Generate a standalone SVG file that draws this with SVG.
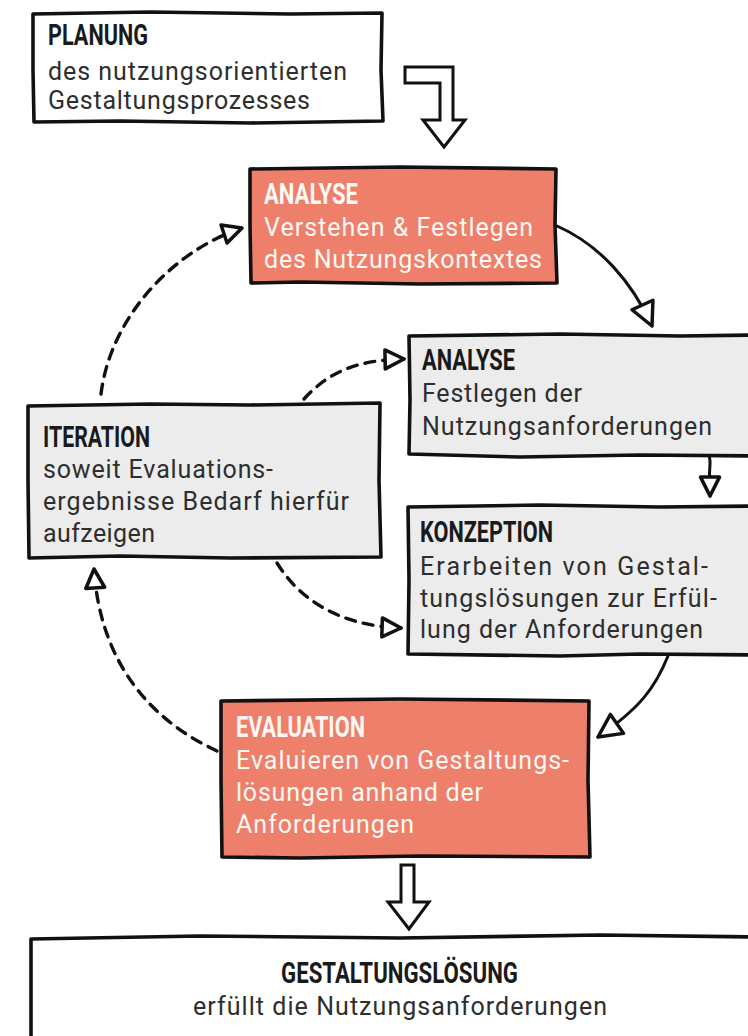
<svg xmlns="http://www.w3.org/2000/svg" width="748" height="1036" viewBox="0 0 748 1036">
<style>
.box{stroke:#111;stroke-width:3.6;stroke-linejoin:round;fill:#fff}
.red{fill:#ee7f6a}
.gray{fill:#ececec}
.t{font-family:Roboto,"Liberation Sans",sans-serif;font-weight:700;font-size:29px;fill:#1a1a1a}
.b{font-family:Roboto,"Liberation Sans",sans-serif;font-size:25px;fill:#2e2e2e}
.w{fill:#fff8f4}
.c{fill:none;stroke:#111;stroke-width:3;stroke-linecap:round}
.d{stroke-width:3.4;stroke-dasharray:10 8}
.fat{fill:#fff;stroke:#111;stroke-width:3;stroke-linejoin:miter}
</style>
<defs>
<marker id="tri" markerUnits="userSpaceOnUse" markerWidth="26" markerHeight="26" viewBox="-2 -2 22 22" refX="17" refY="9" orient="auto">
<path d="M1,1 L17,9 L1,17 Z" fill="#fff" stroke="#111" stroke-width="3" stroke-linejoin="round"/>
</marker>
<marker id="triL" markerUnits="userSpaceOnUse" markerWidth="30" markerHeight="30" viewBox="-2 -2 26 26" refX="21" refY="11" orient="auto">
<path d="M1,1 L21,11 L1,21 Z" fill="#fff" stroke="#111" stroke-width="3" stroke-linejoin="round"/>
</marker>
</defs>

<g id="connectors">
<path class="fat" d="M405,67 L453,67 L453,120 L465,120 L444,147 L423,120 L440,120 L440,83 L405,83 Z"/>
<path class="c" d="M557,226 C600,245 632,282 652,326" marker-end="url(#triL)"/>
<path class="c" d="M709,456 C712,464 708,470 710,478 L710,496" marker-end="url(#tri)"/>
<path class="c" d="M668,656 C655,688 640,708 598,737" marker-end="url(#triL)"/>
<path class="c d" d="M101,394 C110,320 170,252 242,228" marker-end="url(#tri)"/>
<path class="c d" d="M304,399 C326,375 352,360 404,359" marker-end="url(#tri)"/>
<path class="c d" d="M277,563 C300,600 340,626 401,628" marker-end="url(#tri)"/>
<path class="c d" d="M217,751 C150,720 100,662 94,569" marker-end="url(#tri)"/>
<path class="fat" d="M401,865 L414,865 L414,902 L429,902 L409,929 L388,902 L401,902 Z"/>
</g>

<g id="planung">
<path class="box" d="M33,14 L150,12 L290,14 L382,13 L381,70 L383,121 L250,123 L120,121 L34,122 L33,70 Z"/>
<text class="t" x="48" y="45" textLength="100" lengthAdjust="spacingAndGlyphs">PLANUNG</text>
<text class="b" x="48" y="80" textLength="299">des nutzungsorientierten</text>
<text class="b" x="48" y="109" textLength="262">Gestaltungsprozesses</text>
</g>

<g id="analyse1">
<path class="box red" d="M250,169 L400,167 L556,169 L555,225 L557,283 L420,284 L300,282 L251,283 L250,225 Z"/>
<text class="t w" x="264" y="204" textLength="94" lengthAdjust="spacingAndGlyphs">ANALYSE</text>
<text class="b w" x="264" y="236" textLength="269">Verstehen &amp; Festlegen</text>
<text class="b w" x="264" y="268" textLength="278">des Nutzungskontextes</text>
</g>

<g id="analyse2">
<path class="box gray" d="M409,336 L560,334 L680,336 L760,335 L760,456 L640,455 L520,457 L409,454 L410,400 Z"/>
<text class="t" x="422" y="370" textLength="93" lengthAdjust="spacingAndGlyphs">ANALYSE</text>
<text class="b" x="422" y="402" textLength="160">Festlegen der</text>
<text class="b" x="422" y="435" textLength="290">Nutzungsanforderungen</text>
</g>

<g id="konzeption">
<path class="box gray" d="M408,507 L540,505 L660,507 L760,506 L760,655 L640,654 L560,656 L408,654 L409,580 Z"/>
<text class="t" x="420" y="542" textLength="133" lengthAdjust="spacingAndGlyphs">KONZEPTION</text>
<text class="b" x="420" y="575" textLength="288">Erarbeiten von Gestal-</text>
<text class="b" x="420" y="607" textLength="297">tungslösungen zur Erfül-</text>
<text class="b" x="420" y="638" textLength="283">lung der Anforderungen</text>
</g>

<g id="iteration">
<path class="box gray" d="M28,406 L150,404 L250,405 L380,403 L379,480 L381,557 L230,558 L120,556 L29,558 L28,480 Z"/>
<text class="t" x="43" y="447" textLength="107" lengthAdjust="spacingAndGlyphs">ITERATION</text>
<text class="b" x="43" y="478" textLength="230">soweit Evaluations-</text>
<text class="b" x="43" y="510" textLength="306">ergebnisse Bedarf hierfür</text>
<text class="b" x="43" y="542" textLength="112">aufzeigen</text>
</g>

<g id="evaluation">
<path class="box red" d="M221,701 L400,699 L589,701 L588,780 L590,857 L420,856 L300,858 L222,857 L221,780 Z"/>
<text class="t w" x="236" y="737" textLength="129" lengthAdjust="spacingAndGlyphs">EVALUATION</text>
<text class="b w" x="236" y="769" textLength="333">Evaluieren von Gestaltungs-</text>
<text class="b w" x="236" y="801" textLength="247">lösungen anhand der</text>
<text class="b w" x="236" y="833" textLength="178">Anforderungen</text>
</g>

<g id="gestaltungsloesung">
<path class="box" d="M31,939 L200,936 L400,938 L600,935 L760,937 L760,1050 L31,1050 Z"/>
<text class="t" x="281" y="983" textLength="237" lengthAdjust="spacingAndGlyphs">GESTALTUNGSLÖSUNG</text>
<text class="b" x="193" y="1015" textLength="414">erfüllt die Nutzungsanforderungen</text>
</g>
</svg>
